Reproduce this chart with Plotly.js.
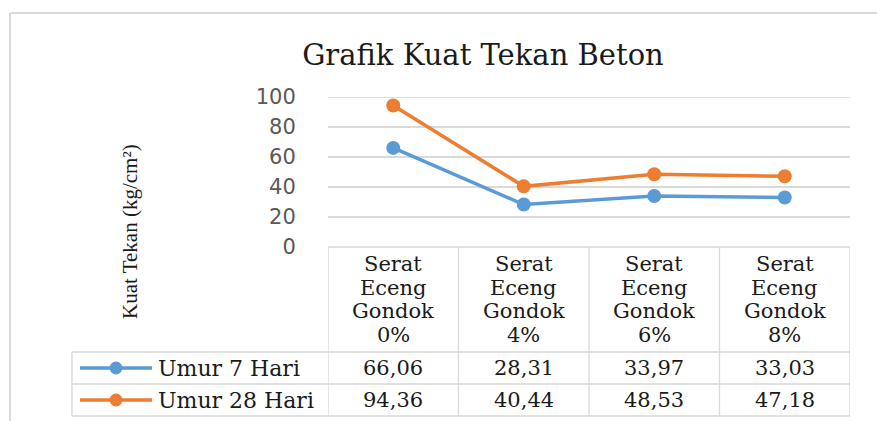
<!DOCTYPE html>
<html>
<head>
<meta charset="utf-8">
<script src="https://cdn.plot.ly/plotly-3.0.1.min.js"></script>
<style>html,body{margin:0;padding:0;background:#fff;}#chart{width:877px;height:421px;}</style>
</head>
<body>
<div id="chart"></div>
<script>
// ---- data ----
const chartTitle = 'Grafik Kuat Tekan Beton';
const yTitle = 'Kuat Tekan (kg/cm²)';
const categories = ['Serat Eceng Gondok 0%', 'Serat Eceng Gondok 4%', 'Serat Eceng Gondok 6%', 'Serat Eceng Gondok 8%'];
const seriesNames = ['Umur 7 Hari', 'Umur 28 Hari'];
const umur7 = [66.06, 28.31, 33.97, 33.03];
const umur28 = [94.36, 40.44, 48.53, 47.18];
const yTicks = [0, 20, 40, 60, 80, 100];

// ---- styling / layout ----
const colors = ['#5B9BD5', '#ED7D31'];
const seriesValues = [umur7, umur28];
const W = 877, H = 421;
const plotL = 328, plotR = 850, plotT = 97, plotB = 247;
const px = x => (x - plotL) / (plotR - plotL);
const py = y => (plotB - y) / (plotB - plotT);
const serif = 'DejaVu Serif, serif';
const gridCol = '#D9D9D9';
const xIdx = categories.map((c, i) => i);

const traces = seriesValues.map((vals, s) => ({
  type: 'scatter', mode: 'lines+markers',
  x: xIdx, y: vals, name: seriesNames[s],
  line: {color: colors[s], width: 3.5},
  marker: {color: colors[s], size: 14},
  cliponaxis: false, showlegend: false, hoverinfo: 'skip'
}));

const shapes = [];
const annotations = [];
const hline = (x0, x1, y, col, w) => shapes.push({type: 'line', xref: 'paper', yref: 'paper', x0: px(x0), x1: px(x1), y0: py(y), y1: py(y), line: {color: col, width: w}, layer: 'below'});
const vlineX = (xv, y0, y1) => shapes.push({type: 'line', xref: 'x', yref: 'paper', x0: xv, x1: xv, y0: py(y0), y1: py(y1), line: {color: gridCol, width: 1.3}});

// gridline at top tick (edge of plot area)
shapes.push({type: 'line', xref: 'paper', yref: 'y', x0: 0, x1: 1, y0: yTicks[yTicks.length - 1], y1: yTicks[yTicks.length - 1], line: {color: gridCol, width: 1.5}, layer: 'below'});

// outer chart frame
shapes.push({type: 'line', xref: 'paper', yref: 'paper', x0: px(10), x1: px(W), y0: py(13), y1: py(13), line: {color: '#D9D9D9', width: 2}});
shapes.push({type: 'line', xref: 'paper', yref: 'paper', x0: px(10), x1: px(10), y0: py(13), y1: py(H), line: {color: '#D9D9D9', width: 2}});

// data table grid
const headerTop = 247, headerBot = 352, rowH = 32;
const rowTops = seriesValues.map((v, s) => headerBot + s * rowH);
const tableBot = headerBot + seriesValues.length * rowH;
hline(plotL, plotR, headerTop, gridCol, 1.3);
hline(72, plotR, headerBot, gridCol, 1.3);
rowTops.forEach((t) => hline(72, plotR, t + rowH, gridCol, 1.3));
for (let i = 0; i <= categories.length; i++) vlineX(i - 0.5, headerTop, tableBot);
shapes.push({type: 'line', xref: 'paper', yref: 'paper', x0: px(72), x1: px(72), y0: py(headerBot), y1: py(tableBot), line: {color: gridCol, width: 1.3}});

// header cells: one annotation per word-line
categories.forEach((c, i) => {
  const parts = c.split(' ');
  parts.forEach((p, k) => {
    annotations.push({xref: 'x', yref: 'paper', x: i, y: py(264 + k * 23.6), text: p, showarrow: false,
      xanchor: 'center', yanchor: 'middle', font: {family: serif, size: 21, color: '#1a1a1a'}});
  });
});

// rows: legend keys + values
seriesValues.forEach((vals, s) => {
  const cy = rowTops[s] + rowH / 2;
  shapes.push({type: 'line', xref: 'paper', yref: 'paper', x0: px(80), x1: px(152), y0: py(cy), y1: py(cy), line: {color: colors[s], width: 3.5}});
  shapes.push({type: 'circle', xref: 'paper', yref: 'paper', xsizemode: 'pixel', ysizemode: 'pixel',
    xanchor: px(116), yanchor: py(cy), x0: -6.5, x1: 6.5, y0: -6.5, y1: 6.5,
    fillcolor: colors[s], line: {color: colors[s], width: 0}});
  annotations.push({xref: 'paper', yref: 'paper', x: px(156), y: py(cy), text: seriesNames[s], showarrow: false,
    xanchor: 'left', yanchor: 'middle', font: {family: serif, size: 22, color: '#1a1a1a'}});
  vals.forEach((v, i) => {
    annotations.push({xref: 'x', yref: 'paper', x: i, y: py(cy), text: v.toFixed(2).replace('.', ','), showarrow: false,
      xanchor: 'center', yanchor: 'middle', font: {family: serif, size: 21, color: '#1a1a1a'}});
  });
});

// y-axis title
annotations.push({xref: 'paper', yref: 'paper', x: px(130), y: py(232), text: yTitle, textangle: -90, showarrow: false,
  xanchor: 'center', yanchor: 'middle', font: {family: 'Liberation Serif, serif', size: 21, color: '#1a1a1a'}});

const layout = {
  width: W, height: H,
  margin: {l: plotL, r: W - plotR, t: plotT, b: H - plotB, pad: 0},
  paper_bgcolor: '#fff', plot_bgcolor: '#fff',
  title: {text: chartTitle, x: 483 / W, y: 1 - 55 / H, xref: 'container', yref: 'container', xanchor: 'center', yanchor: 'middle',
    font: {family: serif, size: 29, color: '#1a1a1a'}},
  xaxis: {range: [-0.5, categories.length - 0.5], showticklabels: false, showgrid: false, zeroline: false, showline: false, fixedrange: true},
  yaxis: {range: [0, 100], tickvals: yTicks, showgrid: true, gridcolor: gridCol, gridwidth: 1.5, zeroline: false, showline: false,
    ticks: 'outside', ticklen: 27, tickcolor: 'rgba(0,0,0,0)',
    tickfont: {family: 'DejaVu Sans, sans-serif', size: 21, color: '#595959'}, fixedrange: true},
  shapes: shapes, annotations: annotations, showlegend: false
};

Plotly.newPlot('chart', traces, layout, {staticPlot: true, displayModeBar: false});
</script>
</body>
</html>
